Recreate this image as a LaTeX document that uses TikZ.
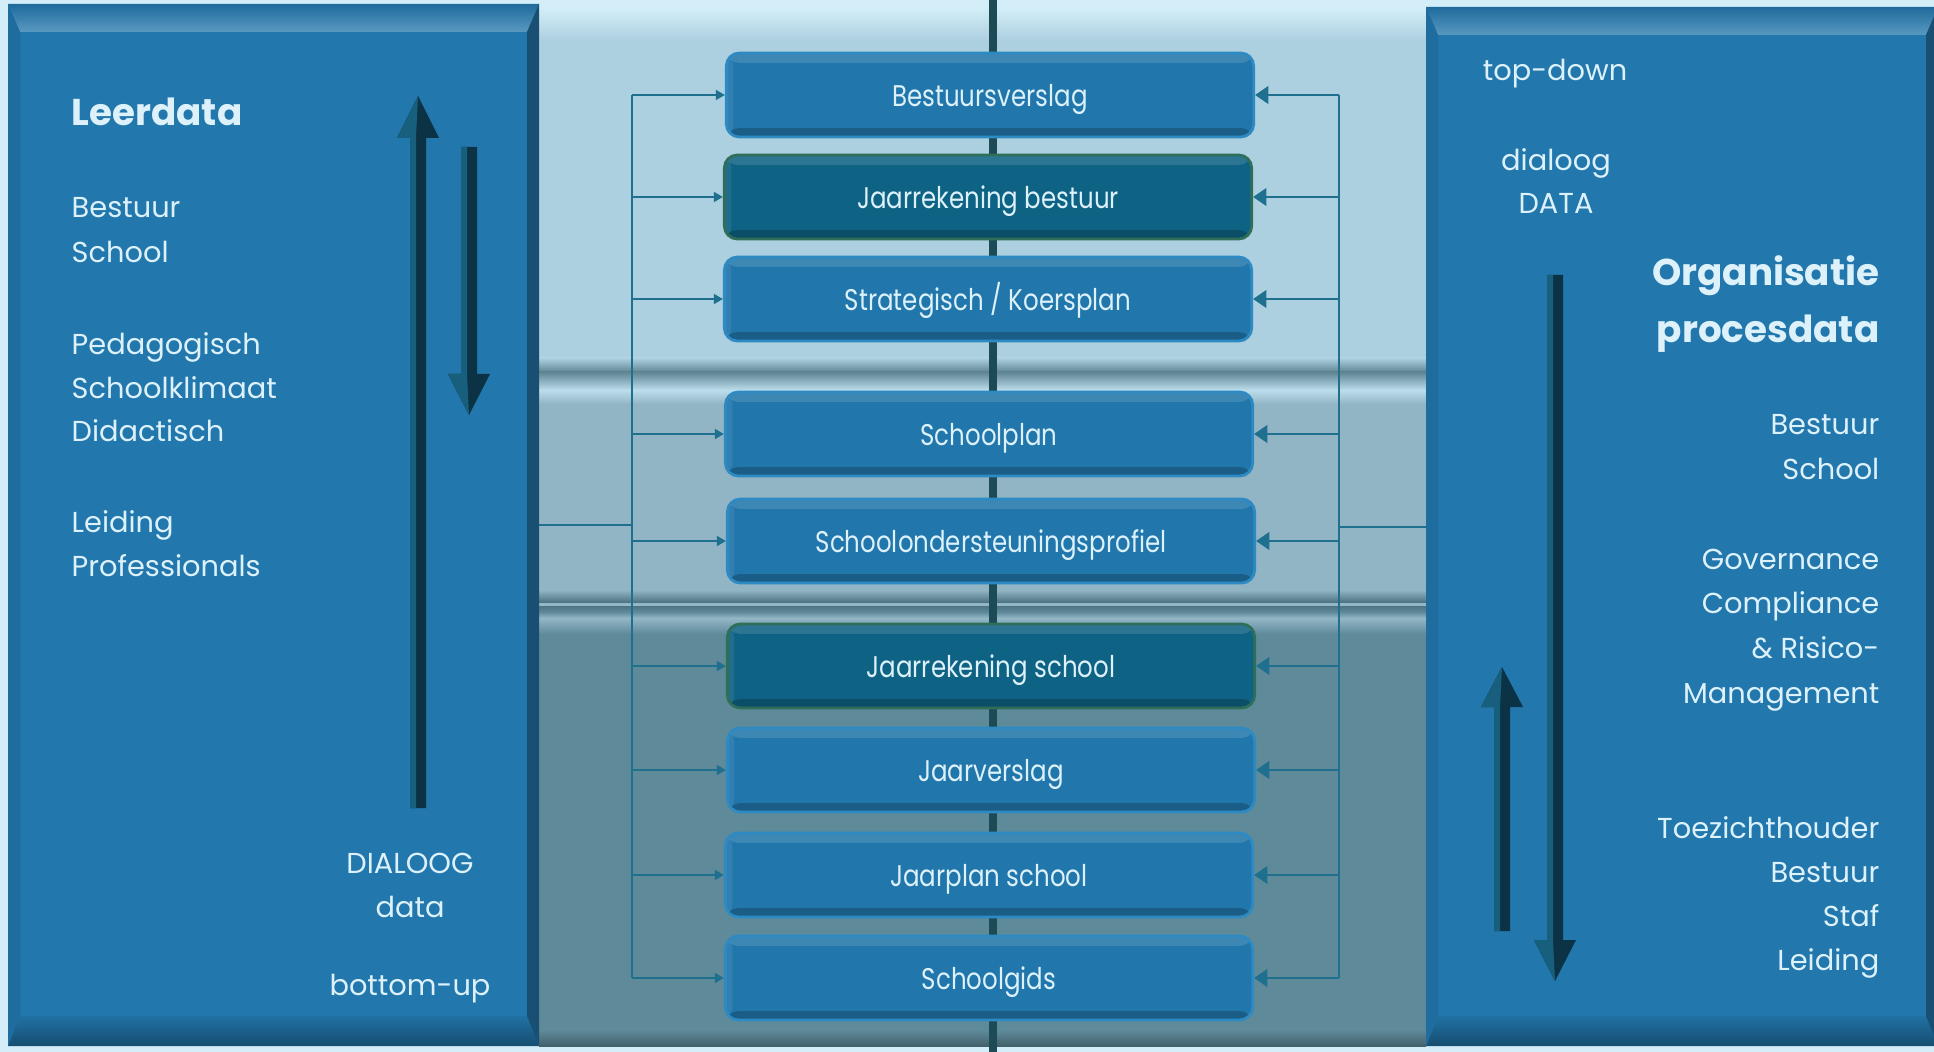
\documentclass[tikz,border=0pt]{standalone}
\usepackage{fontspec}
\setmainfont{Poppins}
\newfontfamily\boxfont[FakeStretch=0.82]{Poppins}
\usetikzlibrary{arrows.meta}

\definecolor{bgtop}{HTML}{D3EEF8}
\definecolor{bandtop}{HTML}{ADD0E0}
\definecolor{bandmid}{HTML}{92B5C5}
\definecolor{bandlow}{HTML}{5F8A9A}
\definecolor{sepdark}{HTML}{5F8692}
\definecolor{sephi}{HTML}{BCDDEB}
\definecolor{seplowdark}{HTML}{4E7482}
\definecolor{seplowhi}{HTML}{93B7C7}
\definecolor{panelblue}{HTML}{2277AD}
\definecolor{panelside}{HTML}{1F6C9E}
\definecolor{paneledge}{HTML}{184F72}
\definecolor{spine}{HTML}{1C4B55}
\definecolor{conn}{HTML}{1F6F8F}
\definecolor{boxblue}{HTML}{2176AB}
\definecolor{boxrim}{HTML}{2E8AC2}
\definecolor{boxdark}{HTML}{0E6283}
\definecolor{keyedge}{HTML}{2F6F5A}
\definecolor{arrowdark}{HTML}{0B3345}
\definecolor{arrowmid}{HTML}{185E7D}
\definecolor{textlight}{HTML}{DCF1FA}

% bevelled panel: x0 y0 x1 y1
\newcommand{\bevelpanel}[4]{%
  \fill[panelblue] (#1,#2) rectangle (#3,#4);
  \shade[top color=panelblue!90!black, bottom color=panelblue!75!white]
    (#1,#2) -- (#3,#2) -- ({#3-12},{#2+28}) -- ({#1+12},{#2+28}) -- cycle;
  \shade[top color=panelblue!95!black, bottom color=panelblue!65!black]
    (#1,#4) -- (#3,#4) -- ({#3-12},{#4-30}) -- ({#1+12},{#4-30}) -- cycle;
  \fill[panelside] (#1,#2) -- ({#1+12},{#2+28}) -- ({#1+12},{#4-30}) -- (#1,#4) -- cycle;
  \fill[paneledge] (#3,#2) -- ({#3-12},{#2+28}) -- ({#3-12},{#4-30}) -- (#3,#4) -- cycle;
}
% fat 3d arrow: x, tip y, head base y, tail y
\newcommand{\fatarrow}[4]{%
  \fill[arrowdark] (#1,#2) -- ({#1+21},#3) -- ({#1+8},#3) -- ({#1+8},#4)
    -- ({#1-8},#4) -- ({#1-8},#3) -- ({#1-21},#3) -- cycle;
  \fill[arrowmid] (#1,#2) -- ({#1-2},#3) -- ({#1-2},#4) -- ({#1-8},#4)
    -- ({#1-8},#3) -- ({#1-21},#3) -- cycle;
}

\tikzset{
  panel text/.style={text=textlight, inner sep=0pt,
    font=\fontsize{8.2pt}{10pt}\selectfont},
  panel head/.style={text=textlight, inner sep=0pt,
    font=\fontsize{10.6pt}{13pt}\selectfont\bfseries},
  docbox/.style={draw=boxrim, fill=boxblue, line width=0.8pt,
    rounded corners=0.13cm, minimum width=5.27cm, minimum height=0.84cm,
    text height=0.84em, text depth=0.2em,
    text=textlight, font=\boxfont\fontsize{8.5pt}{10pt}\selectfont,
    path picture={
      \fill[white, opacity=0.13]
        (path picture bounding box.north west)
        rectangle ([yshift=-0.1cm]path picture bounding box.north east);
      \fill[white, opacity=0.08]
        (path picture bounding box.north west)
        rectangle ([xshift=0.07cm]path picture bounding box.south west);
      \fill[black, opacity=0.2]
        ([yshift=0.09cm]path picture bounding box.south west)
        rectangle (path picture bounding box.south east);
    }},
  keybox/.style={docbox, fill=boxdark, draw=keyedge},
  bus/.style={draw=conn, line width=0.75pt},
  feed/.style={bus, -{Triangle[length=2.6pt,width=2.8pt]}},
  pull/.style={bus, -{Triangle[length=3.8pt,width=5pt]}},
}

\begin{document}
\begin{tikzpicture}[x=0.01cm, y=-0.01cm]
    \useasboundingbox (0,0) rectangle (1934,1052);

    % background bands
    \fill[bgtop] (0,0) rectangle (1934,1052);
    \fill[bandtop] (539,8) rectangle (1426,372);
    \shade[top color=bgtop, bottom color=bandtop] (539,8) rectangle (1426,40);
    \fill[bandmid] (539,372) rectangle (1426,602);
    \fill[bandlow] (539,602) rectangle (1426,1046);
    % upper seam
    \shade[top color=bandtop, bottom color=sepdark] (539,358) rectangle (1426,372);
    \shade[top color=sepdark, bottom color=bandmid] (539,372) rectangle (1426,382);
    \shade[top color=bandmid, bottom color=sephi] (539,382) rectangle (1426,390);
    \shade[top color=sephi, bottom color=bandmid] (539,390) rectangle (1426,404);
    % lower seam
    \shade[top color=bandmid, bottom color=seplowdark] (539,590) rectangle (1426,602);
    \fill[seplowhi] (539,603) rectangle (1426,606);
    \shade[top color=seplowdark, bottom color=bandlow] (539,606) rectangle (1426,612);
    \shade[top color=bandlow, bottom color=seplowhi] (539,612) rectangle (1426,618);
    \shade[top color=seplowhi, bottom color=bandlow] (539,618) rectangle (1426,634);
    \shade[top color=bandlow, bottom color=bandlow!70!black] (539,1030) rectangle (1426,1046);

    % side panels
    \bevelpanel{8}{4}{539}{1046}
    \bevelpanel{1426}{7}{1938}{1046}

    % spine
    \coordinate (spinetop) at (993,0);
    \coordinate (spinebot) at (993,1052);
    \draw[spine, line width=2.3pt] (spinetop) -- (spinebot);

    % documents
    \node[docbox] (b1) at (990,95)  {Bestuursverslag};
    \node[keybox] (b2) at (988,197) {Jaarrekening bestuur};
    \node[docbox] (b3) at (988,299) {Strategisch / Koersplan};
    \node[docbox] (b4) at (989,434) {Schoolplan};
    \node[docbox] (b5) at (991,541) {Schoolondersteuningsprofiel};
    \node[keybox] (b6) at (991,666) {Jaarrekening school};
    \node[docbox] (b7) at (991,770) {Jaarverslag};
    \node[docbox] (b8) at (989,875) {Jaarplan school};
    \node[docbox] (b9) at (989,978) {Schoolgids};

    % left bus
    \coordinate (lin) at (539,525);
    \coordinate (ljoin) at (632,525);
    \draw[bus] (lin) -- (ljoin);
    \draw[bus] (b1.west -| ljoin) -- (b9.west -| ljoin);
    \foreach \b in {b1,b2,b3,b4,b5,b6,b7,b8,b9}
        \draw[feed] (\b.west -| ljoin) -- (\b.west);

    % right bus
    \coordinate (rin) at (1426,527);
    \coordinate (rjoin) at (1339,527);
    \draw[bus] (rin) -- (rjoin);
    \draw[bus] (b1.east -| rjoin) -- (b9.east -| rjoin);
    \foreach \b in {b1,b2,b3,b4,b5,b6,b7,b8,b9}
        \draw[pull] (\b.east -| rjoin) -- (\b.east);

    % left panel
    \node[panel head, anchor=base west] (leerdata) at (71,126) {Leerdata};
    \foreach \txt [count=\i from 0] in {Bestuur,School}
        \node[panel text, anchor=base west] (lorg\i) at (71,{218+45*\i}) {\txt};
    \foreach \txt [count=\i from 0] in {Pedagogisch,Schoolklimaat,Didactisch}
        \node[panel text, anchor=base west] (lped\i) at (71,{354+44*\i}) {\txt};
    \foreach \txt [count=\i from 0] in {Leiding,Professionals}
        \node[panel text, anchor=base west] (llead\i) at (71,{532+44*\i}) {\txt};
    \node[panel text, anchor=base] (ldialoog) at (410,873) {DIALOOG};
    \node[panel text, anchor=base] (ldata) at (410,917) {data};
    \node[panel text, anchor=base] (lbottomup) at (410,995) {bottom-up};
    \fatarrow{418}{96}{138}{808}
    \fatarrow{469}{415}{374}{147}

    % right panel
    \node[panel text, anchor=base] (rtopdown) at (1555,81) {top-down};
    \node[panel text, anchor=base] (rdialoog) at (1556,171) {dialoog};
    \node[panel text, anchor=base] (rdata) at (1556,214) {DATA};
    \node[panel head, anchor=base east] (rorg) at (1880,286) {Organisatie};
    \node[panel head, anchor=base east] (rproc) at (1880,343) {procesdata};
    \foreach \txt [count=\i from 0] in {Bestuur,School}
        \node[panel text, anchor=base east] (rorg\i) at (1880,{435+44*\i}) {\txt};
    \foreach \txt [count=\i from 0] in {Governance,Compliance,{\& Risico-},Management}
        \node[panel text, anchor=base east] (rgov\i) at (1880,{569+44.7*\i}) {\txt};
    \foreach \txt [count=\i from 0] in {Toezichthouder,Bestuur,Staf,Leiding}
        \node[panel text, anchor=base east] (rrole\i) at (1880,{838+44.3*\i}) {\txt};
    \fatarrow{1555}{981}{940}{275}
    \fatarrow{1502}{667}{707}{931}
\end{tikzpicture}
\end{document}
